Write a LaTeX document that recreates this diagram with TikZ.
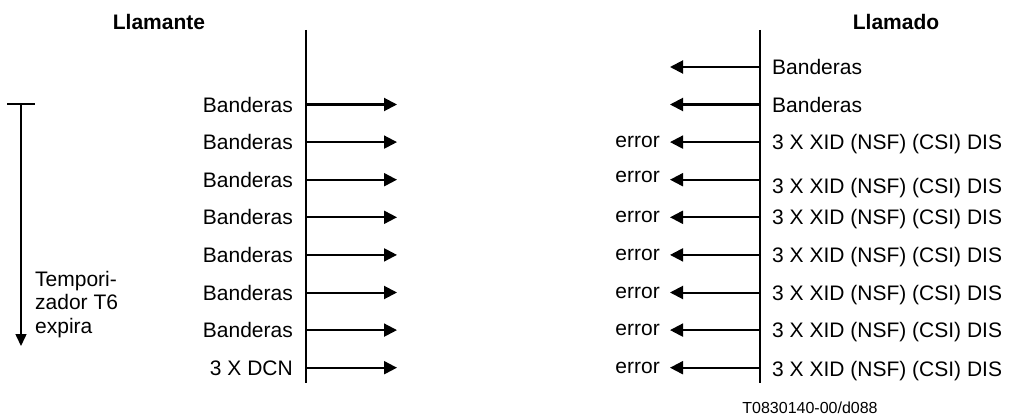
\documentclass[tikz,border=0pt]{standalone}
\usepackage{fontspec}
\setmainfont{Liberation Sans}
\usetikzlibrary{arrows.meta}
\begin{document}
\begin{tikzpicture}[x=1pt,y=-1pt,
  lbl/.style={font=\fontsize{21}{23.5}\selectfont, inner sep=0pt},
  ttl/.style={font=\fontsize{21}{23.5}\selectfont\bfseries, inner sep=0pt, anchor=base},
  life/.style={line width=2pt},
  msg/.style={line width=2pt, -{Triangle[length=13pt,width=13pt]}},
  tick/.style={line width=1.5pt}]
\useasboundingbox (0,0) rectangle (1010,420);
% titles
\node[ttl] (tA) at (159,29.5) {Llamante};
\node[ttl] (tB) at (896,29.5) {Llamado};
% lifelines
\coordinate (A0) at (306,30);
\coordinate (A1) at (306,383);
\coordinate (B0) at (760,30);
\coordinate (B1) at (760,383);
\draw[life] (A0) -- (A1);
\draw[life] (B0) -- (B1);
% left messages
\foreach \i/\t in {0/Banderas,1/Banderas,2/Banderas,3/Banderas,4/Banderas,5/Banderas,6/Banderas,7/3 X DCN}{
  \pgfmathsetmacro{\yy}{104.5+37.6*\i}
  \coordinate (ls\i) at (306,\yy);
  \coordinate (le\i) at (397,\yy);
  \node[lbl, anchor=base east] (lt\i) at (293,\yy+7.5) {\t};
  \draw[msg] (ls\i) -- (le\i);
}
% right messages: top two Banderas
\foreach \i/\yy in {a/67,b/104.5}{
  \coordinate (rs\i) at (760,\yy);
  \coordinate (re\i) at (670,\yy);
  \node[lbl, anchor=base west] (rt\i) at (772,\yy+7.5) {Banderas};
  \draw[msg] (rs\i) -- (re\i);
}
% right messages: XID rows
\foreach \i/\dy/\de in {0/0/0,1/6/-3,2/0/0,3/0/0,4/0/0,5/0/0,6/1/0}{
  \pgfmathsetmacro{\yy}{142.1+37.6*\i}
  \coordinate (rs\i) at (760,\yy);
  \coordinate (re\i) at (670,\yy);
  \node[lbl, anchor=base west] (rt\i) at (772,\yy+7.5+\dy) {3 X XID (NSF) (CSI) DIS};
  \node[lbl, anchor=base east] (er\i) at (660,\yy+5.5+\de) {error};
  \draw[msg] (rs\i) -- (re\i);
}
% timer
\coordinate (T0) at (7,104);
\coordinate (T1) at (35,104);
\coordinate (Ttop) at (21,104);
\coordinate (Tbot) at (21,346);
\draw[tick] (T0) -- (T1);
\draw[tick, -{Triangle[length=12pt,width=11pt]}] (Ttop) -- (Tbot);
\node[lbl, anchor=base west, align=left] (tmr) at (35,333) {Tempori-\\zador T6\\expira};
% footer
\node[font=\fontsize{16}{18}\selectfont, inner sep=0pt, anchor=base] (ref) at (810,413.5) {T0830140-00/d088};
\end{tikzpicture}
\end{document}
